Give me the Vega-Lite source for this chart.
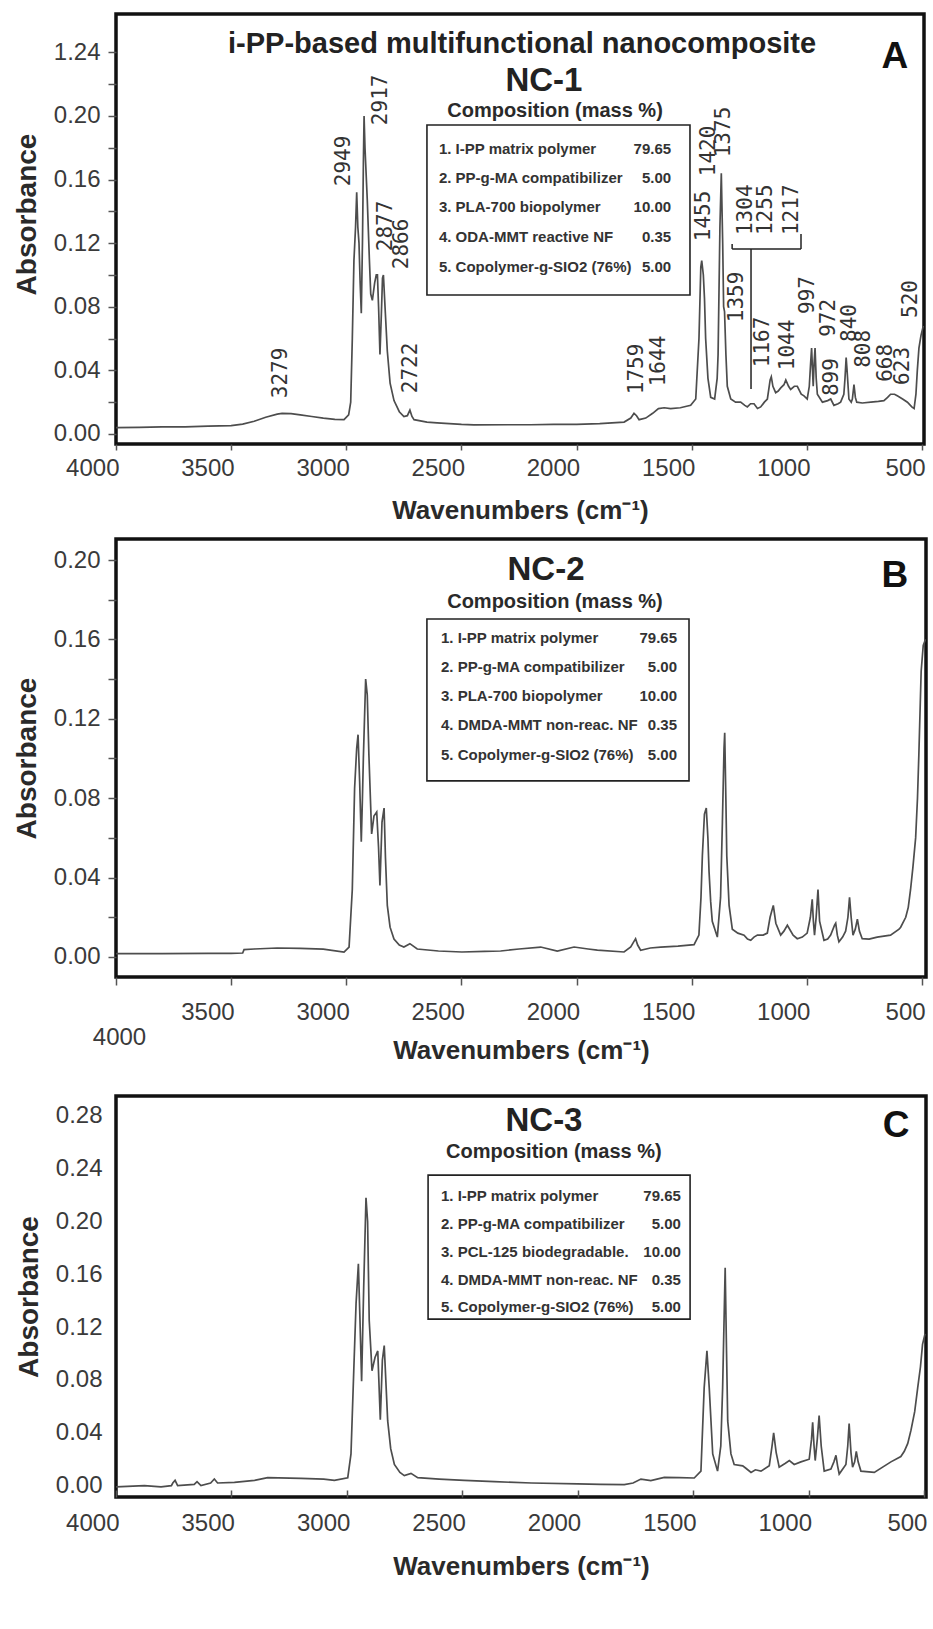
{
  "$schema": "https://vega.github.io/schema/vega-lite/v6.json",
  "background": "white",
  "padding": {"left": 11, "top": 12, "right": 5, "bottom": 5},
  "spacing": 12,
  "config": {
    "view": {"stroke": "#111", "strokeWidth": 3.5},
    "axis": {"grid": false, "domain": false, "labelFont": "Liberation Sans", "labelFontSize": 24, "labelColor": "#3a3a3a", "tickColor": "#555", "tickWidth": 1.5, "titleFont": "Liberation Sans", "titleFontSize": 26, "titleFontWeight": "bold", "titleColor": "#2a2a2a", "labelFlush": false, "labelOverlap": false},
    "axisY": {"titleFontSize": 28},
    "text": {"font": "Liberation Sans", "color": "#222"}
  },
  "vconcat": [
    {
      "width": 808, "height": 430,
      "encoding": {
        "x": {"field": "w", "type": "quantitative", "scale": {"domain": [4000, 492], "nice": false, "zero": false},
          "axis": {"title": "Wavenumbers (cm⁻¹)", "values": [4000, 3500, 3000, 2500, 2000, 1500, 1000, 500], "format": "d", "tickSize": 6, "labelPadding": 6, "labelAlign": "right", "labelOffset": 3, "titlePadding": 17}},
        "y": {"field": "a", "type": "quantitative", "scale": {"domain": [-0.0063, 0.2641], "nice": false, "zero": false},
          "axis": {"title": "Absorbance", "titleY": 200, "values": [0, 0.02, 0.04, 0.06, 0.08, 0.1, 0.12, 0.14, 0.16, 0.18, 0.2, 0.22, 0.24], "labelExpr": "round(datum.value*100) % 4 == 0 ? (round(datum.value*100) == 24 ? '1.24' : format(datum.value, '.2f')) : ''", "tickSize": 8, "labelPadding": 8, "titlePadding": 12}}
      },
      "layer": [
        {
          "data": {"values": [
            {"w":4000,"a":0.004},{"w":3900,"a":0.0042},{"w":3800,"a":0.0045},{"w":3700,"a":0.0045},{"w":3600,"a":0.005},{"w":3500,"a":0.0052},{"w":3450,"a":0.0062},{"w":3400,"a":0.008},{"w":3350,"a":0.0105},{"w":3300,"a":0.0125},{"w":3279,"a":0.013},{"w":3240,"a":0.0128},{"w":3200,"a":0.012},{"w":3150,"a":0.011},{"w":3100,"a":0.01},{"w":3050,"a":0.0092},{"w":3010,"a":0.009},{"w":2990,"a":0.012},{"w":2981,"a":0.02},{"w":2974,"a":0.06},{"w":2967,"a":0.109},{"w":2960,"a":0.13},{"w":2955,"a":0.152},{"w":2950,"a":0.13},{"w":2945,"a":0.12},{"w":2940,"a":0.095},{"w":2935,"a":0.076},{"w":2930,"a":0.12},{"w":2926,"a":0.17},{"w":2923,"a":0.2},{"w":2919,"a":0.18},{"w":2916,"a":0.17},{"w":2909,"a":0.147},{"w":2900,"a":0.11},{"w":2894,"a":0.088},{"w":2887,"a":0.084},{"w":2877,"a":0.095},{"w":2870,"a":0.1},{"w":2865,"a":0.1},{"w":2860,"a":0.08},{"w":2854,"a":0.05},{"w":2848,"a":0.075},{"w":2843,"a":0.098},{"w":2839,"a":0.1},{"w":2832,"a":0.08},{"w":2822,"a":0.052},{"w":2810,"a":0.032},{"w":2793,"a":0.021},{"w":2770,"a":0.014},{"w":2750,"a":0.011},{"w":2735,"a":0.0115},{"w":2724,"a":0.015},{"w":2715,"a":0.011},{"w":2706,"a":0.009},{"w":2650,"a":0.0075},{"w":2606,"a":0.007},{"w":2500,"a":0.006},{"w":2446,"a":0.0057},{"w":2300,"a":0.0058},{"w":2200,"a":0.0058},{"w":2100,"a":0.006},{"w":2000,"a":0.006},{"w":1900,"a":0.0065},{"w":1794,"a":0.0075},{"w":1765,"a":0.01},{"w":1751,"a":0.013},{"w":1740,"a":0.0115},{"w":1729,"a":0.009},{"w":1700,"a":0.01},{"w":1670,"a":0.013},{"w":1645,"a":0.016},{"w":1620,"a":0.0165},{"w":1592,"a":0.016},{"w":1550,"a":0.0165},{"w":1505,"a":0.018},{"w":1483,"a":0.022},{"w":1469,"a":0.06},{"w":1461,"a":0.105},{"w":1457,"a":0.109},{"w":1450,"a":0.1},{"w":1445,"a":0.085},{"w":1440,"a":0.06},{"w":1430,"a":0.035},{"w":1418,"a":0.023},{"w":1401,"a":0.022},{"w":1390,"a":0.035},{"w":1386,"a":0.05},{"w":1378,"a":0.13},{"w":1372,"a":0.164},{"w":1366,"a":0.12},{"w":1362,"a":0.08},{"w":1358,"a":0.077},{"w":1352,"a":0.05},{"w":1346,"a":0.03},{"w":1331,"a":0.022},{"w":1310,"a":0.02},{"w":1288,"a":0.02},{"w":1270,"a":0.018},{"w":1259,"a":0.017},{"w":1245,"a":0.019},{"w":1230,"a":0.019},{"w":1215,"a":0.016},{"w":1201,"a":0.017},{"w":1185,"a":0.02},{"w":1172,"a":0.022},{"w":1160,"a":0.034},{"w":1155,"a":0.036},{"w":1148,"a":0.03},{"w":1136,"a":0.026},{"w":1125,"a":0.027},{"w":1114,"a":0.029},{"w":1100,"a":0.031},{"w":1092,"a":0.034},{"w":1080,"a":0.03},{"w":1071,"a":0.028},{"w":1055,"a":0.03},{"w":1042,"a":0.03},{"w":1025,"a":0.025},{"w":1013,"a":0.024},{"w":999,"a":0.022},{"w":990,"a":0.03},{"w":984,"a":0.045},{"w":980,"a":0.054},{"w":976,"a":0.04},{"w":973,"a":0.03},{"w":969,"a":0.045},{"w":965,"a":0.054},{"w":960,"a":0.035},{"w":955,"a":0.025},{"w":933,"a":0.02},{"w":910,"a":0.021},{"w":897,"a":0.022},{"w":883,"a":0.018},{"w":865,"a":0.019},{"w":854,"a":0.02},{"w":840,"a":0.025},{"w":835,"a":0.035},{"w":830,"a":0.048},{"w":826,"a":0.04},{"w":818,"a":0.022},{"w":808,"a":0.02},{"w":803,"a":0.022},{"w":796,"a":0.031},{"w":790,"a":0.023},{"w":784,"a":0.02},{"w":760,"a":0.0195},{"w":723,"a":0.02},{"w":690,"a":0.0205},{"w":666,"a":0.021},{"w":650,"a":0.023},{"w":637,"a":0.025},{"w":620,"a":0.025},{"w":608,"a":0.024},{"w":585,"a":0.022},{"w":564,"a":0.02},{"w":545,"a":0.017},{"w":535,"a":0.016},{"w":527,"a":0.025},{"w":521,"a":0.04},{"w":514,"a":0.054},{"w":505,"a":0.062},{"w":495,"a":0.068}
          ]},
          "mark": {"type": "line", "color": "#4d4d4d", "strokeWidth": 1.7, "clip": true}
        },
        {
          "data": {"values": [
            {"label":"3279","w":3284,"a":0.0384},{"label":"2949","w":3010,"a":0.1717},{"label":"2917","w":2849,"a":0.2101},{"label":"2877","w":2828,"a":0.1308},{"label":"2866","w":2758,"a":0.1195},{"label":"2722","w":2719,"a":0.0415},{"label":"1759","w":1738,"a":0.0409},{"label":"1644","w":1642,"a":0.0459},{"label":"1455","w":1447,"a":0.1371},{"label":"1420","w":1425,"a":0.178},{"label":"1375","w":1360,"a":0.1899},{"label":"1304","w":1265,"a":0.141},{"label":"1255","w":1178,"a":0.141},{"label":"1217","w":1065,"a":0.141},{"label":"1359","w":1304,"a":0.0862},{"label":"1167","w":1191,"a":0.0579},{"label":"1044","w":1082,"a":0.056},{"label":"997","w":995,"a":0.0874},{"label":"972","w":904,"a":0.073},{"label":"899","w":891,"a":0.0358},{"label":"840","w":813,"a":0.0698},{"label":"808","w":752,"a":0.0535},{"label":"668","w":657,"a":0.0447},{"label":"623","w":583,"a":0.0428},{"label":"520","w":548,"a":0.0849}
          ]},
          "mark": {"type": "text", "angle": 270, "font": "DejaVu Sans Mono", "fontSize": 21, "color": "#333", "align": "center", "baseline": "middle"},
          "encoding": {"text": {"field": "label"}}
        },
        {
          "data": {"values": [
            {"w":1325,"w2":1026,"a":0.1164,"a2":0.1164},{"w":1243,"w2":1243,"a":0.1164,"a2":0.0283},{"w":1325,"w2":1325,"a":0.1164,"a2":0.1195},{"w":1026,"w2":1026,"a":0.1164,"a2":0.1258}
          ]},
          "mark": {"type": "rule", "color": "#222", "strokeWidth": 1.5},
          "encoding": {"x2": {"field": "w2"}, "y2": {"field": "a2"}}
        },
        {
          "data": {"values": [{"w":2650,"w2":1508,"a":0.1943,"a2":0.0874}]},
          "mark": {"type": "rect", "fill": "white", "stroke": "#222", "strokeWidth": 1.6},
          "encoding": {"x2": {"field": "w2"}, "y2": {"field": "a2"}}
        },
        {
          "data": {"values": [
            {"t":"1. I-PP matrix polymer","w":2598,"a":0.1792},{"t":"2. PP-g-MA compatibilizer","w":2598,"a":0.161},{"t":"3. PLA-700 biopolymer","w":2598,"a":0.1428},{"t":"4. ODA-MMT reactive NF","w":2598,"a":0.1239},{"t":"5. Copolymer-g-SIO2 (76%)","w":2598,"a":0.105}
          ]},
          "mark": {"type": "text", "align": "left", "baseline": "middle", "fontSize": 15, "fontWeight": "bold", "color": "#333"},
          "encoding": {"text": {"field": "t"}}
        },
        {
          "data": {"values": [
            {"t":"79.65","w":1590,"a":0.1792},{"t":"5.00","w":1590,"a":0.161},{"t":"10.00","w":1590,"a":0.1428},{"t":"0.35","w":1590,"a":0.1239},{"t":"5.00","w":1590,"a":0.105}
          ]},
          "mark": {"type": "text", "align": "right", "baseline": "middle", "fontSize": 15, "fontWeight": "bold", "color": "#333"},
          "encoding": {"text": {"field": "t"}}
        },
        {
          "data": {"values": [{"t":"i-PP-based multifunctional nanocomposite","w":2237,"a":0.2453}]},
          "mark": {"type": "text", "fontSize": 29, "fontWeight": "bold", "color": "#222"},
          "encoding": {"text": {"field": "t"}}
        },
        {
          "data": {"values": [{"t":"NC-1","w":2142,"a":0.222}]},
          "mark": {"type": "text", "fontSize": 33, "fontWeight": "bold", "color": "#222"},
          "encoding": {"text": {"field": "t"}}
        },
        {
          "data": {"values": [{"t":"Composition (mass %)","w":2094,"a":0.2031}]},
          "mark": {"type": "text", "fontSize": 20, "fontWeight": "bold", "color": "#2a2a2a"},
          "encoding": {"text": {"field": "t"}}
        },
        {
          "data": {"values": [{"t":"A","w":618,"a":0.2371}]},
          "mark": {"type": "text", "fontSize": 37, "fontWeight": "bold", "color": "#111"},
          "encoding": {"text": {"field": "t"}}
        }
      ]
    },
    {
      "width": 810, "height": 438,
      "encoding": {
        "x": {"field": "w", "type": "quantitative", "scale": {"domain": [4000, 483], "nice": false, "zero": false},
          "axis": {"title": "Wavenumbers (cm⁻¹)", "values": [4000, 3500, 3000, 2500, 2000, 1500, 1000, 500], "format": "d", "tickSize": 8,
            "labelPadding": {"condition": {"test": "datum.value == 4000", "value": 40}, "value": 15},
            "labelAlign": {"condition": {"test": "datum.value == 4000", "value": "center"}, "value": "right"},
            "labelOffset": 3, "titleY": 60}},
        "y": {"field": "a", "type": "quantitative", "scale": {"domain": [-0.0101, 0.2106], "nice": false, "zero": false},
          "axis": {"title": "Absorbance", "values": [0, 0.02, 0.04, 0.06, 0.08, 0.1, 0.12, 0.14, 0.16, 0.18, 0.2], "labelExpr": "round(datum.value*100) % 4 == 0 ? format(datum.value, '.2f') : ''", "tickSize": 8, "labelPadding": 8, "titlePadding": 12}}
      },
      "layer": [
        {
          "data": {"values": [
            {"w":4000,"a":0.0017},{"w":3800,"a":0.0017},{"w":3600,"a":0.0018},{"w":3500,"a":0.0018},{"w":3450,"a":0.002},{"w":3444,"a":0.0037},{"w":3400,"a":0.004},{"w":3300,"a":0.0045},{"w":3200,"a":0.0043},{"w":3100,"a":0.0039},{"w":3010,"a":0.0025},{"w":2988,"a":0.005},{"w":2974,"a":0.034},{"w":2964,"a":0.085},{"w":2955,"a":0.105},{"w":2949,"a":0.112},{"w":2942,"a":0.088},{"w":2935,"a":0.058},{"w":2930,"a":0.08},{"w":2926,"a":0.1},{"w":2916,"a":0.14},{"w":2909,"a":0.132},{"w":2902,"a":0.102},{"w":2890,"a":0.062},{"w":2880,"a":0.071},{"w":2868,"a":0.073},{"w":2860,"a":0.055},{"w":2854,"a":0.036},{"w":2845,"a":0.068},{"w":2836,"a":0.075},{"w":2830,"a":0.05},{"w":2822,"a":0.026},{"w":2810,"a":0.015},{"w":2793,"a":0.009},{"w":2770,"a":0.006},{"w":2750,"a":0.005},{"w":2724,"a":0.0067},{"w":2692,"a":0.004},{"w":2600,"a":0.003},{"w":2498,"a":0.0025},{"w":2400,"a":0.0028},{"w":2330,"a":0.003},{"w":2250,"a":0.004},{"w":2156,"a":0.005},{"w":2084,"a":0.003},{"w":2011,"a":0.005},{"w":1950,"a":0.004},{"w":1910,"a":0.0034},{"w":1794,"a":0.0025},{"w":1765,"a":0.005},{"w":1744,"a":0.0092},{"w":1735,"a":0.006},{"w":1722,"a":0.0034},{"w":1680,"a":0.0045},{"w":1635,"a":0.005},{"w":1560,"a":0.0055},{"w":1490,"a":0.0062},{"w":1469,"a":0.011},{"w":1460,"a":0.03},{"w":1454,"a":0.051},{"w":1445,"a":0.072},{"w":1437,"a":0.075},{"w":1430,"a":0.06},{"w":1425,"a":0.043},{"w":1418,"a":0.028},{"w":1411,"a":0.018},{"w":1389,"a":0.01},{"w":1375,"a":0.03},{"w":1367,"a":0.068},{"w":1360,"a":0.105},{"w":1357,"a":0.113},{"w":1352,"a":0.08},{"w":1348,"a":0.051},{"w":1338,"a":0.026},{"w":1324,"a":0.014},{"w":1300,"a":0.012},{"w":1273,"a":0.011},{"w":1258,"a":0.009},{"w":1244,"a":0.0084},{"w":1230,"a":0.01},{"w":1215,"a":0.011},{"w":1190,"a":0.011},{"w":1172,"a":0.012},{"w":1160,"a":0.02},{"w":1146,"a":0.026},{"w":1135,"a":0.017},{"w":1114,"a":0.011},{"w":1100,"a":0.013},{"w":1085,"a":0.016},{"w":1060,"a":0.011},{"w":1042,"a":0.0092},{"w":1020,"a":0.01},{"w":999,"a":0.012},{"w":985,"a":0.02},{"w":977,"a":0.029},{"w":972,"a":0.018},{"w":967,"a":0.011},{"w":960,"a":0.02},{"w":952,"a":0.034},{"w":945,"a":0.018},{"w":926,"a":0.0084},{"w":910,"a":0.009},{"w":897,"a":0.011},{"w":880,"a":0.016},{"w":875,"a":0.017},{"w":868,"a":0.011},{"w":861,"a":0.0076},{"w":845,"a":0.01},{"w":832,"a":0.013},{"w":822,"a":0.02},{"w":815,"a":0.03},{"w":808,"a":0.02},{"w":800,"a":0.011},{"w":790,"a":0.014},{"w":781,"a":0.019},{"w":772,"a":0.013},{"w":760,"a":0.0092},{"w":730,"a":0.009},{"w":695,"a":0.01},{"w":637,"a":0.011},{"w":600,"a":0.014},{"w":593,"a":0.015},{"w":571,"a":0.02},{"w":560,"a":0.025},{"w":550,"a":0.034},{"w":540,"a":0.045},{"w":528,"a":0.06},{"w":520,"a":0.08},{"w":514,"a":0.102},{"w":504,"a":0.144},{"w":495,"a":0.157},{"w":485,"a":0.16}
          ]},
          "mark": {"type": "line", "color": "#4d4d4d", "strokeWidth": 1.7, "clip": true}
        },
        {
          "data": {"values": [{"w":2650,"w2":1512,"a":0.1703,"a2":0.0887}]},
          "mark": {"type": "rect", "fill": "white", "stroke": "#222", "strokeWidth": 1.6},
          "encoding": {"x2": {"field": "w2"}, "y2": {"field": "a2"}}
        },
        {
          "data": {"values": [
            {"t":"1. I-PP matrix polymer","w":2589,"a":0.1607},{"t":"2. PP-g-MA compatibilizer","w":2589,"a":0.1461},{"t":"3. PLA-700 biopolymer","w":2589,"a":0.1315},{"t":"4. DMDA-MMT non-reac. NF","w":2589,"a":0.1169},{"t":"5. Copolymer-g-SIO2 (76%)","w":2589,"a":0.1018}
          ]},
          "mark": {"type": "text", "align": "left", "baseline": "middle", "fontSize": 15, "fontWeight": "bold", "color": "#333"},
          "encoding": {"text": {"field": "t"}}
        },
        {
          "data": {"values": [
            {"t":"79.65","w":1564,"a":0.1607},{"t":"5.00","w":1564,"a":0.1461},{"t":"10.00","w":1564,"a":0.1315},{"t":"0.35","w":1564,"a":0.1169},{"t":"5.00","w":1564,"a":0.1018}
          ]},
          "mark": {"type": "text", "align": "right", "baseline": "middle", "fontSize": 15, "fontWeight": "bold", "color": "#333"},
          "encoding": {"text": {"field": "t"}}
        },
        {
          "data": {"values": [{"t":"NC-2","w":2133,"a":0.195}]},
          "mark": {"type": "text", "fontSize": 33, "fontWeight": "bold", "color": "#222"},
          "encoding": {"text": {"field": "t"}}
        },
        {
          "data": {"values": [{"t":"Composition (mass %)","w":2094,"a":0.1788}]},
          "mark": {"type": "text", "fontSize": 20, "fontWeight": "bold", "color": "#2a2a2a"},
          "encoding": {"text": {"field": "t"}}
        },
        {
          "data": {"values": [{"t":"B","w":618,"a":0.1919}]},
          "mark": {"type": "text", "fontSize": 37, "fontWeight": "bold", "color": "#111"},
          "encoding": {"text": {"field": "t"}}
        }
      ]
    },
    {
      "width": 810, "height": 401,
      "title": {"text": " ", "fontSize": 2, "offset": 15},
      "encoding": {
        "x": {"field": "w", "type": "quantitative", "scale": {"domain": [4000, 491], "nice": false, "zero": false},
          "axis": {"title": "Wavenumbers (cm⁻¹)", "values": [4000, 3500, 3000, 2500, 2000, 1500, 1000, 500], "format": "d", "tickSize": -7, "labelPadding": 21, "labelAlign": "right", "labelOffset": 3, "titlePadding": 18}},
        "y": {"field": "a", "type": "quantitative", "scale": {"domain": [-0.0086, 0.295], "nice": false, "zero": false},
          "axis": {"title": "Absorbance", "values": [0, 0.04, 0.08, 0.12, 0.16, 0.2, 0.24, 0.28], "format": ".2f", "ticks": false, "labelPadding": 14, "titlePadding": 12}}
      },
      "layer": [
        {
          "data": {"values": [
            {"w":4000,"a":-0.001},{"w":3877,"a":0},{"w":3805,"a":-0.001},{"w":3760,"a":0},{"w":3754,"a":0.002},{"w":3744,"a":0.004},{"w":3733,"a":0},{"w":3661,"a":0.001},{"w":3649,"a":0.003},{"w":3632,"a":0},{"w":3590,"a":0.002},{"w":3574,"a":0.005},{"w":3560,"a":0.002},{"w":3487,"a":0.0025},{"w":3400,"a":0.004},{"w":3343,"a":0.006},{"w":3199,"a":0.0055},{"w":3100,"a":0.005},{"w":3054,"a":0.004},{"w":2996,"a":0.006},{"w":2982,"a":0.024},{"w":2970,"a":0.087},{"w":2960,"a":0.138},{"w":2950,"a":0.168},{"w":2943,"a":0.125},{"w":2936,"a":0.079},{"w":2927,"a":0.15},{"w":2917,"a":0.218},{"w":2910,"a":0.2},{"w":2903,"a":0.125},{"w":2891,"a":0.087},{"w":2878,"a":0.097},{"w":2866,"a":0.102},{"w":2855,"a":0.05},{"w":2846,"a":0.095},{"w":2838,"a":0.106},{"w":2823,"a":0.049},{"w":2810,"a":0.028},{"w":2794,"a":0.016},{"w":2770,"a":0.01},{"w":2751,"a":0.0076},{"w":2722,"a":0.0093},{"w":2693,"a":0.006},{"w":2600,"a":0.005},{"w":2491,"a":0.004},{"w":2361,"a":0.003},{"w":2200,"a":0.002},{"w":2000,"a":0.0013},{"w":1900,"a":0.001},{"w":1798,"a":0.0008},{"w":1760,"a":0.002},{"w":1726,"a":0.005},{"w":1683,"a":0.0038},{"w":1625,"a":0.0063},{"w":1560,"a":0.006},{"w":1495,"a":0.0058},{"w":1466,"a":0.011},{"w":1452,"a":0.074},{"w":1440,"a":0.102},{"w":1430,"a":0.074},{"w":1415,"a":0.024},{"w":1394,"a":0.011},{"w":1380,"a":0.03},{"w":1372,"a":0.074},{"w":1361,"a":0.165},{"w":1355,"a":0.1},{"w":1350,"a":0.049},{"w":1336,"a":0.024},{"w":1322,"a":0.016},{"w":1285,"a":0.015},{"w":1270,"a":0.013},{"w":1249,"a":0.01},{"w":1230,"a":0.012},{"w":1206,"a":0.011},{"w":1170,"a":0.015},{"w":1158,"a":0.03},{"w":1151,"a":0.04},{"w":1140,"a":0.025},{"w":1127,"a":0.014},{"w":1100,"a":0.017},{"w":1083,"a":0.019},{"w":1062,"a":0.016},{"w":1033,"a":0.018},{"w":997,"a":0.02},{"w":987,"a":0.035},{"w":982,"a":0.048},{"w":976,"a":0.03},{"w":971,"a":0.019},{"w":962,"a":0.035},{"w":954,"a":0.053},{"w":945,"a":0.03},{"w":932,"a":0.011},{"w":903,"a":0.0126},{"w":890,"a":0.018},{"w":881,"a":0.023},{"w":874,"a":0.015},{"w":867,"a":0.0088},{"w":838,"a":0.016},{"w":830,"a":0.03},{"w":824,"a":0.047},{"w":816,"a":0.025},{"w":809,"a":0.014},{"w":800,"a":0.018},{"w":793,"a":0.026},{"w":785,"a":0.018},{"w":773,"a":0.011},{"w":715,"a":0.01},{"w":643,"a":0.018},{"w":600,"a":0.022},{"w":585,"a":0.026},{"w":570,"a":0.032},{"w":556,"a":0.042},{"w":540,"a":0.056},{"w":527,"a":0.074},{"w":515,"a":0.09},{"w":506,"a":0.107},{"w":495,"a":0.115}
          ]},
          "mark": {"type": "line", "color": "#4d4d4d", "strokeWidth": 1.7, "clip": true}
        },
        {
          "data": {"values": [{"w":2648,"w2":1513,"a":0.2351,"a2":0.1261}]},
          "mark": {"type": "rect", "fill": "white", "stroke": "#222", "strokeWidth": 1.6},
          "encoding": {"x2": {"field": "w2"}, "y2": {"field": "a2"}}
        },
        {
          "data": {"values": [
            {"t":"1. I-PP matrix polymer","w":2592,"a":0.2193},{"t":"2. PP-g-MA compatibilizer","w":2592,"a":0.1981},{"t":"3. PCL-125 biodegradable.","w":2592,"a":0.1769},{"t":"4. DMDA-MMT non-reac. NF","w":2592,"a":0.1557},{"t":"5. Copolymer-g-SIO2 (76%)","w":2592,"a":0.1353}
          ]},
          "mark": {"type": "text", "align": "left", "baseline": "middle", "fontSize": 15, "fontWeight": "bold", "color": "#333"},
          "encoding": {"text": {"field": "t"}}
        },
        {
          "data": {"values": [
            {"t":"79.65","w":1553,"a":0.2193},{"t":"5.00","w":1553,"a":0.1981},{"t":"10.00","w":1553,"a":0.1769},{"t":"0.35","w":1553,"a":0.1557},{"t":"5.00","w":1553,"a":0.1353}
          ]},
          "mark": {"type": "text", "align": "right", "baseline": "middle", "fontSize": 15, "fontWeight": "bold", "color": "#333"},
          "encoding": {"text": {"field": "t"}}
        },
        {
          "data": {"values": [{"t":"NC-3","w":2146,"a":0.2761}]},
          "mark": {"type": "text", "fontSize": 33, "fontWeight": "bold", "color": "#222"},
          "encoding": {"text": {"field": "t"}}
        },
        {
          "data": {"values": [{"t":"Composition (mass %)","w":2103,"a":0.2526}]},
          "mark": {"type": "text", "fontSize": 20, "fontWeight": "bold", "color": "#2a2a2a"},
          "encoding": {"text": {"field": "t"}}
        },
        {
          "data": {"values": [{"t":"C","w":621,"a":0.2723}]},
          "mark": {"type": "text", "fontSize": 37, "fontWeight": "bold", "color": "#111"},
          "encoding": {"text": {"field": "t"}}
        }
      ]
    }
  ]
}
